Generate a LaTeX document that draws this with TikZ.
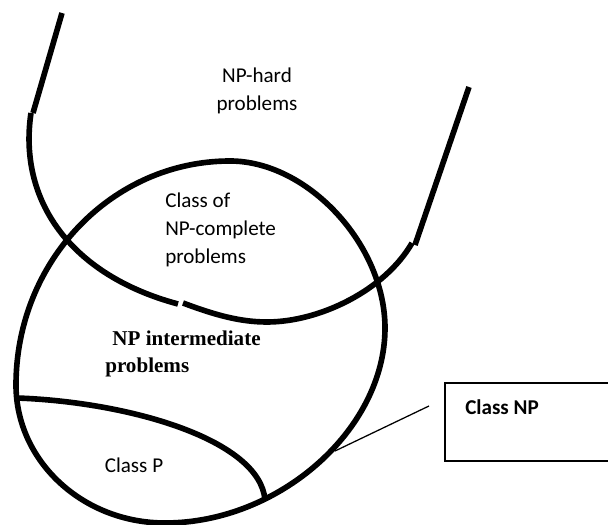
\documentclass[tikz,border=0pt]{standalone}
\usepackage{fontspec}
\setmainfont{Carlito}
\newfontfamily\npserif{Liberation Serif}
\usetikzlibrary{positioning}

\tikzset{
  setline/.style={line width=4pt, line join=round},
  setlabel/.style={font=\fontsize{15}{20}\selectfont, inner sep=0pt},
  npbox/.style={draw, line width=1.4pt, inner sep=0pt},
}

\begin{document}
\begin{tikzpicture}[x=0.025cm, y=-0.025cm]
  \useasboundingbox (0,0) rectangle (608,525);
  \clip (0,0) rectangle (608,525);

  % NP-hard region (open curve, drawn in pieces)
  \draw[setline] (62,13) -- (33,113);
  \draw[setline] (31,113) .. controls (18,200) and (70,275) .. (178,304);
  \draw[setline] (183,303) .. controls (215,315) and (240,322) .. (267,322)
                 .. controls (320,322) and (385,290) .. (412,243);
  \draw[setline] (415,245) -- (469,87);

  % Class NP
  \draw[setline] (230,161) .. controls (307.5,161) and (385,244.5) .. (385,328)
                 .. controls (385,429.4) and (279.4,523) .. (165,523)
                 .. controls (82.8,523) and (16,461.2) .. (16,385)
                 .. controls (16,261.4) and (111.9,161) .. (230,161) -- cycle;

  % Class P
  \draw[setline] (17,398) .. controls (130,402) and (260,440) .. (265,500);

  % labels
  \node[setlabel, align=center] (nphard) at (257,91) {NP-hard\\problems};
  \node[setlabel, align=left, anchor=west] (npcomplete) at (165,230) {Class of\\NP-complete\\problems};
  \node[setlabel, font=\npserif\bfseries\fontsize{15}{19}\selectfont, align=left, anchor=west] (npinter) at (105,354) {\hspace{0.18cm}NP intermediate\\problems};
  \node[setlabel] (classp) at (134,465) {Class P};

  % Class NP box and its leader
  \node[npbox, anchor=north west, minimum width=4.3cm, minimum height=1.95cm] (classnp) at (444,382) {};
  \node[setlabel, font=\bfseries\fontsize{15}{20}\selectfont, anchor=west] (classnptext) at (465,407) {Class NP};
  \coordinate (leadfrom) at (335,451);
  \coordinate (leadto) at (429,406);
  \draw[line width=0.9pt] (leadfrom) -- (leadto);
\end{tikzpicture}
\end{document}
